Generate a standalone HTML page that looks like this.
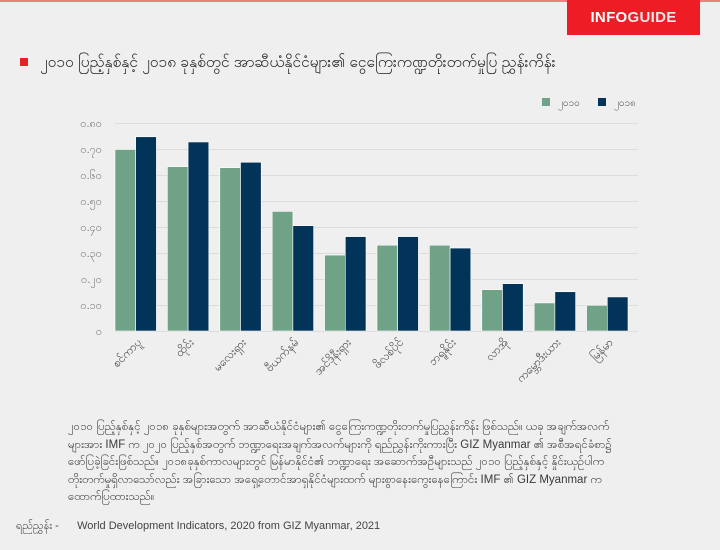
<!DOCTYPE html>
<html><head><meta charset="utf-8"><style>
body{margin:0;width:720px;height:550px;background:#efefef;overflow:hidden;font-family:"Liberation Sans","Noto Sans CJK SC",sans-serif;position:relative}
.top{position:absolute;left:0;top:0;width:720px;height:2px;background:#f08080}
.logo{position:absolute;left:567px;top:0;width:133px;height:35px;background:#ee1c25;color:#fff;font-weight:bold;font-size:15px;line-height:35px;text-align:center;letter-spacing:.3px}
.logo span{color:#e8e8e8}
.title{position:absolute;left:20px;top:52px;font-size:15.5px;color:#222;white-space:nowrap}
.title i{display:inline-block;width:8px;height:8px;background:#ee1c25;margin-right:12px;vertical-align:1px}
.para{position:absolute;left:68px;top:419px;font-size:11.5px;line-height:17.5px;color:#3a3a3a;white-space:nowrap}
.src{position:absolute;left:16px;top:519px;font-size:11px;color:#444;white-space:nowrap}
svg{position:absolute;left:0;top:0}
</style></head><body>
<div class="top"></div>
<div class="logo">INFO<span>GUIDE</span></div>
<div class="title"><i></i>၂၀၁၀ ပြည့်နှစ်နှင့် ၂၀၁၈ ခုနှစ်တွင် အာဆီယံနိုင်ငံများ၏ ငွေကြေးကဏ္ဍတိုးတက်မှုပြ ညွှန်းကိန်း</div>
<svg width="720" height="420" font-family="Liberation Sans, sans-serif">
<g stroke="#dcdcdc" stroke-width="1">
<line x1="115" x2="638" y1="123.5" y2="123.5"/><line x1="115" x2="638" y1="149.5" y2="149.5"/>
<line x1="115" x2="638" y1="175.5" y2="175.5"/><line x1="115" x2="638" y1="201.5" y2="201.5"/>
<line x1="115" x2="638" y1="227.5" y2="227.5"/><line x1="115" x2="638" y1="253.5" y2="253.5"/>
<line x1="115" x2="638" y1="279.5" y2="279.5"/><line x1="115" x2="638" y1="305.5" y2="305.5"/>
<line x1="115" x2="638" y1="331.5" y2="331.5"/>
</g>
<g font-size="11" fill="#777" text-anchor="end">
<text x="102" y="127">၀.၈၀</text><text x="102" y="153">၀.၇၀</text><text x="102" y="179">၀.၆၀</text>
<text x="102" y="205">၀.၅၀</text><text x="102" y="231">၀.၄၀</text><text x="102" y="257">၀.၃၀</text>
<text x="102" y="283">၀.၂၀</text><text x="102" y="309">၀.၁၀</text><text x="102" y="335">၀</text>
</g>
<rect x="542" y="98" width="8" height="8" fill="#6fa287"/><text x="558" y="106" font-size="10" fill="#555">၂၀၁၀</text>
<rect x="598" y="98" width="8" height="8" fill="#023459"/><text x="614" y="106" font-size="10" fill="#555">၂၀၁၈</text>
<g id="bars"></g>
<g font-size="11.5" fill="#444" text-anchor="end" id="labels"></g>
</svg>
<script>
var g=[0.698,0.632,0.628,0.46,0.292,0.33,0.33,0.159,0.108,0.099],n=[0.747,0.727,0.649,0.405,0.363,0.363,0.319,0.182,0.151,0.131];
var L=["စင်ကာပူ","ထိုင်း","မလေးရှား","ဗီယက်နမ်","အင်ဒိုနီးရှား","ဖိလစ်ပိုင်","ဘရူနိုင်း","လာအို","ကမ္ဘောဒီးယား","မြန်မာ"];
var s="",t="";
for(var i=0;i<10;i++){var x=115+i*52.4,h1=g[i]*260,h2=n[i]*260;
s+='<rect x="'+x+'" y="'+(331-h1)+'" width="20.7" height="'+h1+'" fill="#6fa287" stroke="#fff" stroke-width="0.6"/>';
s+='<rect x="'+(x+20.7)+'" y="'+(331-h2)+'" width="20.7" height="'+h2+'" fill="#023459" stroke="#fff" stroke-width="0.6"/>';
t+='<text transform="translate('+(x+27)+',343) rotate(-45)">'+L[i]+'</text>';}
document.getElementById('bars').innerHTML=s;document.getElementById('labels').innerHTML=t;
</script>
<div class="para">၂၀၁၀ ပြည့်နှစ်နှင့် ၂၀၁၈ ခုနှစ်များအတွက် အာဆီယံနိုင်ငံများ၏ ငွေကြေးကဏ္ဍတိုးတက်မှုပြညွှန်းကိန်း ဖြစ်သည်။ ယခု အချက်အလက်<br>များအား IMF က ၂၀၂၀ ပြည့်နှစ်အတွက် ဘဏ္ဍာရေးအချက်အလက်များကို ရည်ညွှန်းကိုးကားပြီး GIZ Myanmar ၏ အစီအရင်ခံစာ၌<br>ဖော်ပြခဲ့ခြင်းဖြစ်သည်။ ၂၀၁၈ခုနှစ်ကာလများတွင် မြန်မာနိုင်ငံ၏ ဘဏ္ဍာရေး အဆောက်အဦများသည် ၂၀၁၀ ပြည့်နှစ်နှင့် နှိုင်းယှဉ်ပါက<br>တိုးတက်မှုရှိလာသော်လည်း အခြားသော အရှေ့တောင်အာရှနိုင်ငံများထက် များစွာနေးကွေးနေကြောင်း IMF ၏ GIZ Myanmar က<br>ထောက်ပြထားသည်။</div>
<div class="src">ရည်ညွှန်း - &nbsp;&nbsp;&nbsp;&nbsp; World Development Indicators, 2020 from GIZ Myanmar, 2021</div>
</body></html>
